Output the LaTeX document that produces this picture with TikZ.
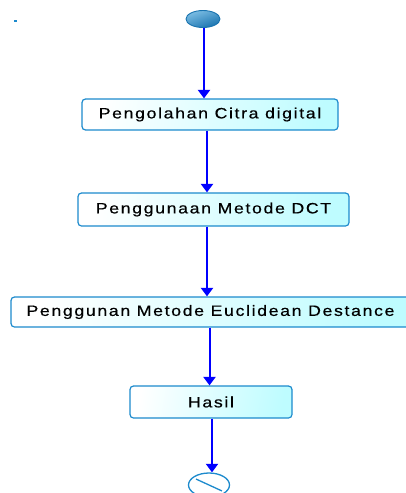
\documentclass[tikz,border=0pt]{standalone}
\usepackage{fontspec}
\setmainfont{Liberation Sans}[FakeStretch=1.18,LetterSpace=11,FakeBold=0.5]
\usetikzlibrary{arrows.meta,shapes.geometric}
\definecolor{edgeblue}{RGB}{28,138,205}
\definecolor{flowblue}{RGB}{0,0,255}
\definecolor{boxcyan}{RGB}{190,252,255}
\definecolor{dotlight}{RGB}{125,190,228}
\definecolor{dotdark}{RGB}{25,115,175}
\tikzset{
  actbox/.style={draw=edgeblue, line width=1.2pt, rounded corners=3.5pt,
    left color=white, right color=boxcyan, shading angle=80,
    minimum height=31pt, inner sep=0pt, text=black,
    font=\fontsize{15}{17}\selectfont},
  flow/.style={draw=flowblue, line width=2pt,
    -{Triangle[width=12pt,length=8.5pt]}},
}
\begin{document}
\begin{tikzpicture}[x=1pt,y=-1pt]
  \useasboundingbox (0,0) rectangle (405,493);
  % stray mark near the top-left corner
  \fill[edgeblue] (14,20) rectangle (16.5,22);
  % initial state
  \node[ellipse, draw=dotdark, line width=0.9pt, minimum width=34pt, minimum height=17pt,
        inner sep=0pt, top color=dotlight, bottom color=dotdark, shading angle=20] (s) at (203,19) {};
  % activities
  \node[actbox, minimum width=256pt] (b1) at (210,114.5) {Pengolahan Citra digital};
  \node[actbox, minimum width=271pt, minimum height=33pt] (b2) at (213.5,209.5) {Penggunaan Metode DCT};
  \node[actbox, minimum width=399pt, minimum height=30pt] (b3) at (210.5,312) {Penggunan Metode Euclidean Destance};
  \node[actbox, minimum width=162pt, minimum height=32pt] (b4) at (211,402) {Hasil};
  % final state
  \node[ellipse, draw=edgeblue, line width=1.3pt, fill=white, minimum width=41pt, minimum height=24pt,
        inner sep=0pt] (e) at (209,485) {};
  \path (e.north west) ++(2,3) coordinate (ea)
        (e.south east) ++(-2,-3) coordinate (eb);
  \draw[edgeblue, line width=1.3pt] (ea) -- (eb);
  % control flow
  \draw[flow] ([xshift=1pt]s.south) -- ([xshift=1pt]s.south |- b1.north);
  \draw[flow] ([xshift=-3pt]b1.south) -- ([xshift=-3pt]b1.south |- b2.north);
  \draw[flow] ([xshift=-6.5pt]b2.south) -- ([xshift=-6.5pt]b2.south |- b3.north);
  \draw[flow] ([xshift=-1pt]b3.south) -- ([xshift=-1pt]b3.south |- b4.north);
  \draw[flow] ([xshift=1pt]b4.south) -- ([xshift=1pt]b4.south |- e.north);
\end{tikzpicture}
\end{document}
